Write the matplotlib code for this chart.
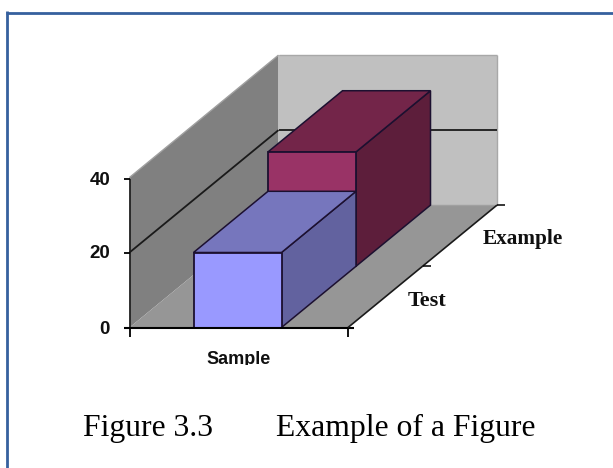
"3d style column chart drawn on a plain axes"
import numpy as np
import matplotlib.pyplot as plt
from matplotlib.patches import Polygon, Rectangle

"data"
x_labels = ["Sample"]
depth_labels = ["Test", "Example"]
y_ticks = [0, 20, 40]
values = [20, 30.5]

"setting param - pixels of the picture"
W, H = 613, 468
x0, y0 = 129.5, 327.5
x_len = 218.5
dx, dy = 74.5, -61.2
y_scale = 3.75
bar_l, bar_r = 64 / x_len, 152 / x_len

front_cols = ["#9999ff", "#993366"]
top_cols = ["#7676bd", "#732549"]
side_cols = ["#62629f", "#5d1e3b"]

fig = plt.figure(figsize=(W / 100, H / 100), dpi=100)
ax = fig.add_axes([0, 0, 1, 1])
ax.set_xlim(0, W)
ax.set_ylim(H, 0)
ax.axis("off")


def pr(x, d, v):
    "x in 0-1, d in depth bins, v in data units"
    return (x0 + x * x_len + d * dx, y0 + d * dy - v * y_scale)


def face(pts, col, ec="none", lw=1.0, z=1):
    ax.add_patch(Polygon(pts, closed=True, facecolor=col, edgecolor=ec, linewidth=lw, zorder=z))


def line(a, b, col="#1a1a1a", lw=1.3, z=3):
    ax.plot([a[0], b[0]], [a[1], b[1]], color=col, lw=lw, zorder=z, solid_capstyle="butt")


"walls and floor"
top = y_ticks[-1]
nd = len(depth_labels)
face([pr(0, 0, 0), pr(0, nd, 0), pr(0, nd, top), pr(0, 0, top)], "#808080")
face([pr(0, nd, 0), pr(1, nd, 0), pr(1, nd, top), pr(0, nd, top)], "#c0c0c0")
face([pr(0, 0, 0), pr(1, 0, 0), pr(1, nd, 0), pr(0, nd, 0)], "#969696")
line(pr(1, nd, 0), pr(1, nd, top), "#a8a8a8", 1.0, 2)
line(pr(0, nd, top), pr(1, nd, top), "#a8a8a8", 1.0, 2)
line(pr(0, 0, top), pr(0, nd, top), "#a0a0a0", 1.0, 2)
line(pr(0, nd, 0), pr(1, nd, 0), "#a0a0a0", 1.0, 2)

"grid line"
line(pr(0, 0, 20), pr(0, nd, 20), z=2)
line(pr(0, nd, 20), pr(1, nd, 20), z=2)

"bars, back one first"
for i in [1, 0]:
    v = values[i]
    z = 4 + (1 - i) * 2
    ec = "#1c1030"
    face([pr(bar_r, i, 0), pr(bar_r, i + 1, 0), pr(bar_r, i + 1, v), pr(bar_r, i, v)], side_cols[i], ec, 1.1, z)
    face([pr(bar_l, i, v), pr(bar_r, i, v), pr(bar_r, i + 1, v), pr(bar_l, i + 1, v)], top_cols[i], ec, 1.1, z)
    face([pr(bar_l, i, 0), pr(bar_r, i, 0), pr(bar_r, i, v), pr(bar_l, i, v)], front_cols[i], ec, 1.3, z + 1)

"axes lines and ticks"
line(pr(0, 0, 0), pr(0, 0, 39.5), lw=1.2, z=8)
line((x0 - 6, y0), (x0 + x_len + 6, y0), "black", 1.5, 8)
line(pr(1, 0, 0), pr(1, nd, 0), lw=1.2, z=8)
for t in y_ticks:
    p = pr(0, 0, min(t, 39.5))
    line((p[0] - 6, p[1]), p, "black", 1.3, 8)
    ax.text(110, p[1] + 1.5, str(t), fontsize=13.5, fontweight="bold", family="Liberation Sans",
            ha="right", va="center", color="#101010", zorder=9)
for x in [0, 1]:
    p = pr(x, 0, 0)
    line(p, (p[0], p[1] + 9), "black", 1.3, 8)
for d in range(1, nd + 1):
    p = pr(1, d, 0)
    line(p, (p[0] + 8, p[1]), "black", 1.1, 8)

"labels"
t = ax.text(239, 363.5, x_labels[0], fontsize=13, fontweight="bold", family="Liberation Sans",
            ha="center", va="baseline", color="#101010", zorder=9, clip_on=True)
t.set_clip_path(Rectangle((0, 0), W, 365, transform=ax.transData))
ax.text(427.5, 306, depth_labels[0], fontsize=16, fontweight="bold", family="Liberation Serif",
        ha="center", va="baseline", color="#101010", zorder=9)
ax.text(522.5, 244, depth_labels[1], fontsize=15.3, fontweight="bold", family="Liberation Serif",
        ha="center", va="baseline", color="#101010", zorder=9)

"caption"
ax.text(83, 436, "Figure 3.3", fontsize=22.8, family="Liberation Serif", color="black", va="baseline")
ax.text(275.5, 436, "Example of a Figure", fontsize=22.8, family="Liberation Serif", color="black", va="baseline")

"frame"
line((7.4, 11.3), (7.4, H), "#36609e", 2.0, 10)
line((6, 12.7), (W, 12.7), "#36609e", 2.0, 10)

fig.savefig("out.png", dpi=100)
